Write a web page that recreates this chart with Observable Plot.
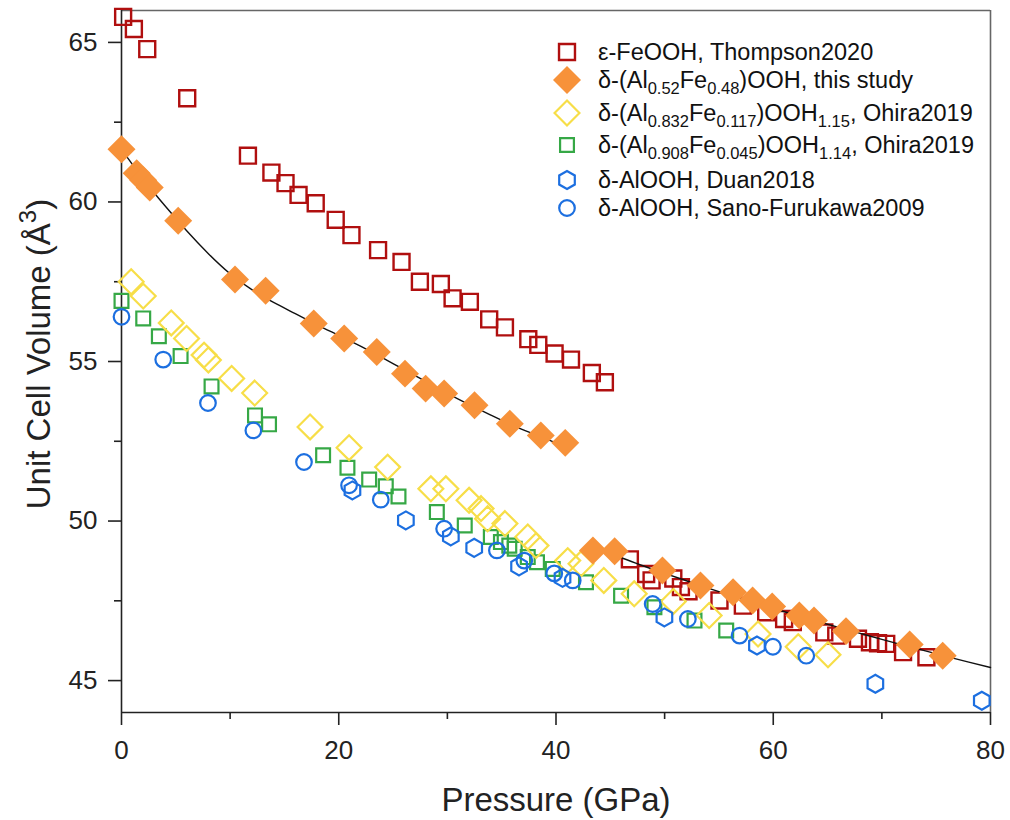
<!DOCTYPE html>
<html><head><meta charset="utf-8">
<script src="https://cdn.jsdelivr.net/npm/d3@7"></script>
<script src="https://cdn.jsdelivr.net/npm/@observablehq/plot@0.6"></script>
<style>body{margin:0;background:#fff} #chart{width:1010px;height:820px}</style>
</head><body><div id="chart"></div>
<script>
// ---- data (pressure GPa, volume Å^3) ----
const thompsonP = [0.15,1.14,2.37,6.05,11.64,13.8,15.1,16.3,17.88,19.72,21.17,23.62,25.78,27.47,29.4,30.48,32.07,33.85,35.3,37.45,38.37,39.87,41.38,43.3,44.5,46.8,48.3,48.8,50.8,51.5,52.2,55.05,57.2,59.35,61.0,61.8,64.7,65.8,67.8,68.9,69.65,70.4,71.95,74.1];
const thompsonV = [65.8,65.42,64.79,63.25,61.45,60.92,60.59,60.22,59.96,59.44,58.96,58.49,58.12,57.5,57.43,56.98,56.87,56.32,56.07,55.7,55.52,55.25,55.06,54.64,54.35,48.8,48.34,48.14,48.2,47.93,47.8,47.51,47.35,47.14,46.93,46.83,46.51,46.41,46.31,46.2,46.17,46.15,45.89,45.73];

const studyP = [0,1.4,2.0,2.6,5.22,10.45,13.27,17.7,20.5,23.5,26.1,28.0,29.7,32.5,35.75,38.6,40.85,43.4,45.4,49.8,53.3,56.3,58.1,59.9,62.4,63.75,66.7,72.56,75.6];
const studyV = [61.65,60.9,60.68,60.45,59.41,57.57,57.22,56.19,55.72,55.3,54.62,54.15,54.0,53.63,53.05,52.68,52.45,49.08,49.05,48.45,47.98,47.77,47.51,47.32,47.04,46.88,46.55,46.13,45.78];

const ohiraAP = [0.89,2.0,4.58,5.99,7.6,8.0,10.14,12.26,17.36,20.95,24.5,28.48,29.86,32.0,33.1,33.7,35.3,37.4,38.16,41.08,42.3,44.4,47.2,50.8,54.1,58.6,62.3,65.04];
const ohiraAV = [57.5,57.05,56.21,55.72,55.2,55.05,54.47,54.01,52.95,52.3,51.69,51.01,51.01,50.65,50.39,50.07,49.92,49.5,49.23,48.76,48.66,48.14,47.72,47.48,47.04,46.46,46.06,45.81];

const ohiraBP = [0,2.0,3.44,5.44,8.29,12.29,13.58,18.56,20.8,22.8,24.33,25.5,29.03,31.6,34.0,34.93,35.7,36.2,37.4,38.25,39.7,42.76,45.99,49.06,52.75,55.67];
const ohiraBV = [56.9,56.35,55.79,55.17,54.22,53.31,53.03,52.06,51.67,51.3,51.09,50.77,50.28,49.86,49.5,49.34,49.23,49.13,48.87,48.71,48.5,48.08,47.66,47.3,46.88,46.57];

const duanP = [21.26,26.18,30.32,32.47,36.6,40.6,49.98,58.5,69.4,79.2];
const duanV = [50.96,50.02,49.52,49.16,48.58,48.22,46.98,46.1,44.9,44.37];

const sanoP = [0,3.84,7.96,12.14,16.8,20.95,23.87,29.7,34.56,37.08,39.84,41.54,48.9,52.14,56.9,59.97,63.04];
const sanoV = [56.4,55.06,53.7,52.84,51.85,51.12,50.67,49.76,49.08,48.76,48.36,48.14,47.4,46.93,46.41,46.06,45.78];

// fitted curves
const fitHSP = [0,2,4,6,8,10,12,14,16,18,20,22,24,26,28,30,32,34,36,38,40,40.85];
const fitHSV = [61.65,60.72,59.88,59.1,58.38,57.75,57.25,56.85,56.5,56.15,55.82,55.48,55.12,54.75,54.38,54.0,53.65,53.32,53.0,52.72,52.45,52.36];
const fitLSP = [43.4,46,48,50,52,54,56,58,60,62,64,66,68,70,72,74,76,78,80];
const fitLSV = [49.15,48.85,48.6,48.36,48.13,47.9,47.68,47.47,47.26,47.06,46.86,46.67,46.48,46.29,46.11,45.93,45.75,45.58,45.41];

const xTicks = [0,20,40,60,80];
const xMinor = [10,30,50,70];
const yTicks = [45,50,55,60,65];
const yMinor = [47.5,52.5,57.5,62.5];

const legendLabels = [
  [["ε-FeOOH, Thompson2020",""]],
  [["δ-(Al",""],["0.52","s"],["Fe",""],["0.48","s"],[")OOH, this study",""]],
  [["δ-(Al",""],["0.832","s"],["Fe",""],["0.117","s"],[")OOH",""],["1.15","s"],[", Ohira2019",""]],
  [["δ-(Al",""],["0.908","s"],["Fe",""],["0.045","s"],[")OOH",""],["1.14","s"],[", Ohira2019",""]],
  [["δ-AlOOH, Duan2018",""]],
  [["δ-AlOOH, Sano-Furukawa2009",""]]
];

// ---- styles ----
const RED = "#b00f0f", ORANGE = "#f7923a", YELLOW = "#f7de48", GREEN = "#36a846", BLUE = "#1c6fe0";
const series = [
  {P: thompsonP, V: thompsonV, symbol: "square", r: 9, stroke: RED, fill: "none", sw: 2.4},
  {P: ohiraBP, V: ohiraBV, symbol: "square", r: 7.8, stroke: GREEN, fill: "none", sw: 2.2},
  {P: ohiraAP, V: ohiraAV, symbol: "diamond2", r: 11.2, stroke: YELLOW, fill: "none", sw: 2.2},
  {P: duanP, V: duanV, symbol: "hexagon", r: 7.8, stroke: BLUE, fill: "none", sw: 2.2},
  {P: sanoP, V: sanoV, symbol: "circle", r: 7.8, stroke: BLUE, fill: "none", sw: 2.2}
];
const rows = (P, V) => P.map((p, i) => ({p, v: V[i]}));
const FONT = "Liberation Sans, Arial, Helvetica, sans-serif";
const AX = "#222";

const plot = Plot.plot({
  width: 1010, height: 820,
  marginLeft: 121, marginRight: 20, marginTop: 10, marginBottom: 108,
  x: {domain: [0, 80], label: null},
  y: {domain: [44, 66], label: null},
  style: {fontFamily: FONT, background: "white", overflow: "visible"},
  marks: [
    Plot.ruleY([66], {stroke: "#666", strokeWidth: 1.6}),
    Plot.ruleX([80], {stroke: "#666", strokeWidth: 1.6}),
    Plot.axisX({ticks: xTicks, tickSize: 13, tickPadding: 15, fontSize: 26, color: AX, strokeWidth: 1.6, label: null}),
    Plot.axisX({ticks: xMinor, tickSize: 7, tickFormat: () => "", color: AX, strokeWidth: 1.6, label: null}),
    Plot.axisY({ticks: yTicks, tickSize: 13, tickPadding: 11, fontSize: 26, color: AX, strokeWidth: 1.6, label: null}),
    Plot.axisY({ticks: yMinor, tickSize: 7, tickFormat: () => "", color: AX, strokeWidth: 1.6, label: null}),
    Plot.ruleX([0], {stroke: AX, strokeWidth: 1.6}),
    Plot.ruleY([44], {stroke: AX, strokeWidth: 1.6}),
    ...series.map(s => Plot.dot(rows(s.P, s.V), {x: "p", y: "v", symbol: s.symbol, r: s.r, stroke: s.stroke, fill: s.fill, strokeWidth: s.sw})),
    Plot.line(rows(fitHSP, fitHSV), {x: "p", y: "v", stroke: "#111", strokeWidth: 1.4, curve: "natural"}),
    Plot.line(rows(fitLSP, fitLSV), {x: "p", y: "v", stroke: "#111", strokeWidth: 1.4, curve: "natural"}),
    Plot.dot(rows(studyP, studyV), {x: "p", y: "v", symbol: "diamond2", r: 12.6, fill: ORANGE, stroke: "none"})
  ]
});
document.getElementById("chart").appendChild(plot);

const svg = d3.select(plot);
// axis titles
svg.append("text").attr("x", 556).attr("y", 811).attr("text-anchor", "middle")
  .attr("font-family", FONT).attr("font-size", 33).attr("fill", AX).text("Pressure (GPa)");
const yl = svg.append("text").attr("transform", "translate(50,354) rotate(-90)").attr("text-anchor", "middle")
  .attr("font-family", FONT).attr("font-size", 33).attr("fill", AX);
yl.append("tspan").text("Unit Cell Volume (Å");
yl.append("tspan").attr("font-size", 24).attr("dy", -14).text("3");
yl.append("tspan").attr("dy", 14).text(")");

// legend
const legendY = [52, 80, 113, 145, 180, 208];
const hexagon = {draw(ctx, size) {
  const rx = Math.sqrt(size / Math.PI), ry = rx * 2 / Math.sqrt(3), hy = ry / 2;
  ctx.moveTo(0, ry); ctx.lineTo(rx, hy); ctx.lineTo(rx, -hy); ctx.lineTo(0, -ry);
  ctx.lineTo(-rx, -hy); ctx.lineTo(-rx, hy); ctx.closePath();
}};
const legendSym = [
  {symbol: d3.symbolSquare, r: 9, stroke: RED, fill: "none", sw: 2.4},
  {symbol: d3.symbolDiamond2, r: 12.6, stroke: "none", fill: ORANGE, sw: 0},
  {symbol: d3.symbolDiamond2, r: 11.2, stroke: YELLOW, fill: "none", sw: 2.2},
  {symbol: d3.symbolSquare, r: 7.8, stroke: GREEN, fill: "none", sw: 2.2},
  {symbol: hexagon, r: 7.8, stroke: BLUE, fill: "none", sw: 2.2},
  {symbol: d3.symbolCircle, r: 7.8, stroke: BLUE, fill: "none", sw: 2.2}
];
const lg = svg.append("g").attr("text-anchor", "start");
legendLabels.forEach((parts, i) => {
  const s = legendSym[i];
  lg.append("path").attr("transform", `translate(567,${legendY[i]})`)
    .attr("d", d3.symbol(s.symbol, s.r * s.r * Math.PI)())
    .attr("fill", s.fill).attr("stroke", s.stroke).attr("stroke-width", s.sw);
  const t = lg.append("text").attr("x", 598).attr("y", legendY[i] + 8.3).attr("text-anchor", "start")
    .attr("font-family", FONT).attr("font-size", 23.5).attr("fill", "#111");
  let shifted = false;
  parts.forEach(([txt, kind]) => {
    const ts = t.append("tspan").text(txt);
    if (kind === "s" && !shifted) { ts.attr("font-size", 16.5).attr("dy", 6); shifted = true; }
    else if (kind === "s") { ts.attr("font-size", 16.5); }
    else if (shifted) { ts.attr("dy", -6); shifted = false; }
  });
});
</script>
</body></html>
